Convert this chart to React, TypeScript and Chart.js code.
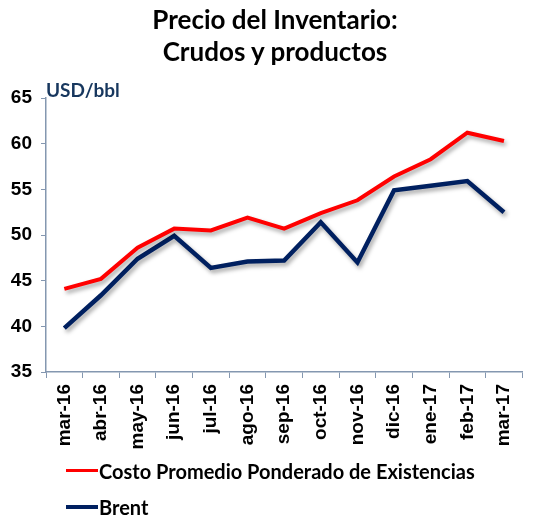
import React, { useEffect, useRef } from "react";
import { Chart, registerables } from "chart.js";

Chart.register(...registerables);

const categories = ["mar-16", "abr-16", "may-16", "jun-16", "jul-16", "ago-16", "sep-16", "oct-16", "nov-16", "dic-16", "ene-17", "feb-17", "mar-17"];
const costoPromedio = [44.1, 45.2, 48.6, 50.7, 50.5, 51.9, 50.7, 52.4, 53.8, 56.4, 58.3, 61.2, 60.3];
const brent = [39.8, 43.4, 47.4, 49.9, 46.4, 47.1, 47.2, 51.4, 47.0, 54.9, 55.4, 55.9, 52.5];
const seriesNames = ["Costo Promedio Ponderado de Existencias", "Brent"];
const titleLines = ["Precio del Inventario:", "Crudos y productos"];
const unitLabel = "USD/bbl";

const RED = "#ff0000";
const NAVY = "#002060";
const AXIS = "#8497b0";

const shadowPlugin = {
  id: "lineShadow",
  beforeDatasetDraw(chart: any) {
    const ctx = chart.ctx;
    ctx.save();
    ctx.shadowColor = "rgba(0,0,0,0.35)";
    ctx.shadowBlur = 4;
    ctx.shadowOffsetX = 2;
    ctx.shadowOffsetY = 3;
  },
  afterDatasetDraw(chart: any) {
    chart.ctx.restore();
  },
};

export default function App() {
  const ref = useRef<HTMLCanvasElement | null>(null);
  useEffect(() => {
    if (!ref.current) return;
    const chart = new Chart(ref.current, {
      type: "line",
      data: {
        labels: categories,
        datasets: [
          { label: seriesNames[0], data: costoPromedio, borderColor: RED, backgroundColor: RED, borderWidth: 4, pointRadius: 0, tension: 0 },
          { label: seriesNames[1], data: brent, borderColor: NAVY, backgroundColor: NAVY, borderWidth: 4.5, pointRadius: 0, tension: 0 },
        ],
      },
      options: {
        animation: false,
        responsive: false,
        layout: { padding: { top: 98, bottom: 68, left: 0, right: 6 } },
        plugins: { legend: { display: false }, title: { display: false }, tooltip: { enabled: false } },
        scales: {
          x: {
            offset: true,
            grid: { display: true, drawOnChartArea: false, offset: true, tickLength: 6, color: AXIS },
            border: { color: AXIS, width: 1.5 },
            ticks: {
              minRotation: 90,
              maxRotation: 90,
              padding: 6,
              color: "#000",
              font: { family: "'Liberation Sans', Arial", size: 19, weight: "bold" },
            },
            afterFit(s: any) { s.height = 80; },
          },
          y: {
            min: 35,
            max: 65,
            grid: { display: true, drawOnChartArea: false, tickLength: 5, color: AXIS },
            border: { color: AXIS, width: 1.5 },
            ticks: {
              stepSize: 5,
              padding: 9,
              color: "#000",
              font: { family: "'Liberation Sans', Arial", size: 19, weight: "bold" },
            },
            afterFit(s: any) { s.width = 46; },
          },
        },
      },
      plugins: [shadowPlugin],
    });
    return () => chart.destroy();
  }, []);

  const titleStyle: React.CSSProperties = {
    position: "absolute", left: 0, width: 550, textAlign: "center",
    fontFamily: "Lato, 'Open Sans', sans-serif", fontWeight: 700, fontSize: 26, color: "#000", lineHeight: "32px",
  };
  const legendText: React.CSSProperties = {
    position: "absolute", left: 99, fontFamily: "Lato, 'Open Sans', sans-serif", fontWeight: 700, fontSize: 20, color: "#000", lineHeight: "24px", whiteSpace: "nowrap",
  };

  return (
    <div style={{ position: "fixed", left: 0, top: 0, width: 533, height: 520, background: "#fff" }}>
      <canvas ref={ref} width={533} height={520} style={{ position: "absolute", left: 0, top: 0 }} />
      <div style={{ ...titleStyle, top: 3 }}>{titleLines[0]}</div>
      <div style={{ ...titleStyle, top: 35 }}>{titleLines[1]}</div>
      <div style={{ position: "absolute", left: 46, top: 79, fontFamily: "Lato, 'Open Sans', sans-serif", fontWeight: 700, fontSize: 19, color: "#17375e", lineHeight: "22px" }}>{unitLabel}</div>
      <div style={{ position: "absolute", left: 66, top: 469, width: 32, height: 3, background: RED }} />
      <div style={{ ...legendText, top: 459 }}>{seriesNames[0]}</div>
      <div style={{ position: "absolute", left: 66, top: 505, width: 32, height: 4, background: NAVY }} />
      <div style={{ ...legendText, top: 495 }}>{seriesNames[1]}</div>
    </div>
  );
}
